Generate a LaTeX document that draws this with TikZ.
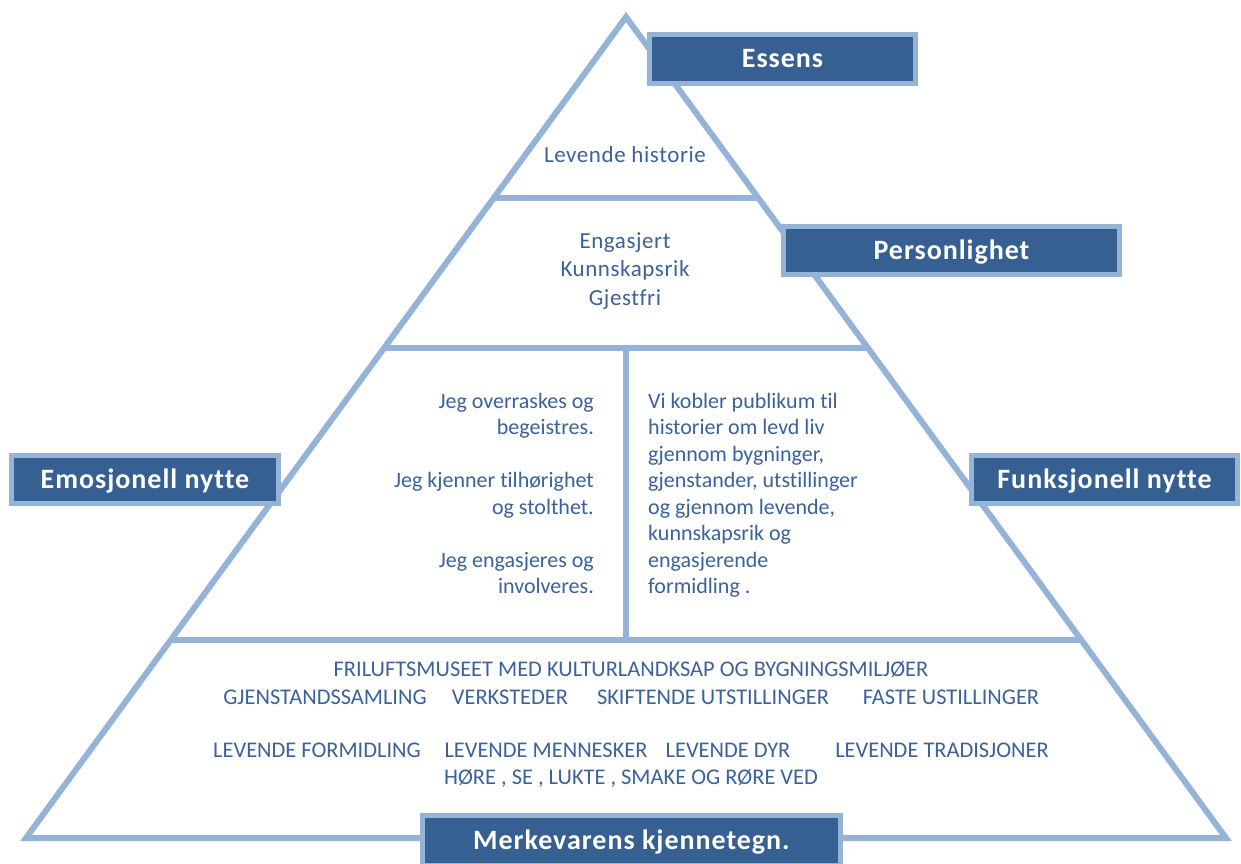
\documentclass[tikz,border=0pt]{standalone}
\usepackage{fontspec}
\setmainfont{Carlito}[Ligatures={NoCommon,NoContextual}]
\newfontfamily\labelfont{Carlito}[LetterSpace=3.5,Ligatures={NoCommon,NoContextual}]
\newfontfamily\topfont{Carlito}[LetterSpace=2.5,Ligatures={NoCommon,NoContextual}]
\definecolor{lineblue}{HTML}{95B3D7}
\definecolor{boxblue}{HTML}{366092}
\definecolor{txtblue}{HTML}{3A629C}
\begin{document}
\begin{tikzpicture}[x=1pt,y=-1pt,
  edge/.style={draw=lineblue,line width=6pt,line join=miter},
  labelbox/.style={draw=lineblue,fill=boxblue,line width=5pt,text=white,
    font=\labelfont\fontsize{28}{32}\selectfont\bfseries,inner sep=0pt,
    text height=17.6pt,text depth=0pt},
  body/.style={text=txtblue,font=\fontsize{22}{26.5}\selectfont,inner sep=0pt},
  topbody/.style={text=txtblue,font=\topfont\fontsize{23}{26.5}\selectfont,inner sep=0pt,anchor=base},
  caps/.style={text=txtblue,font=\fontsize{22.4}{26}\selectfont,inner sep=0pt,anchor=base}]
\useasboundingbox (0,0) rectangle (1241,863);
\fill[white] (0,0) rectangle (1241,863);
% triangle vertices
\coordinate (apex) at (626,17);
\coordinate (bl) at (26,838);
\coordinate (br) at (1226,838);
% level lines
\coordinate (l1a) at (495,198);
\coordinate (l1b) at (759,198);
\coordinate (l2a) at (384,348);
\coordinate (l2b) at (868,348);
\coordinate (l3a) at (171,640);
\coordinate (l3b) at (1081,640);
\coordinate (vt) at (626,348);
\coordinate (vb) at (626,640);
\draw[edge] (apex) -- (br) -- (bl) -- cycle;
\draw[edge] (l1a) -- (l1b);
\draw[edge] (l2a) -- (l2b);
\draw[edge] (l3a) -- (l3b);
\draw[edge,line cap=butt] (vt) -- (vb);
% texts
\node[topbody] (hist) at (625,162) {Levende historie};
\node[topbody] (p1) at (625,248) {Engasjert};
\node[topbody] (p2) at (625,276.5) {Kunnskapsrik};
\node[topbody] (p3) at (625,305) {Gjestfri};
\node[body,anchor=base east] (e1) at (594,408) {Jeg overraskes og};
\node[body,anchor=base east] (e2) at (594,434.5) {begeistres.};
\node[body,anchor=base east] (e3) at (594,487.5) {Jeg kjenner tilhørighet};
\node[body,anchor=base east] (e4) at (594,514) {og stolthet.};
\node[body,anchor=base east] (e5) at (594,567) {Jeg engasjeres og};
\node[body,anchor=base east] (e6) at (594,593.5) {involveres.};
\node[body,anchor=base west] (f1) at (648,408) {Vi kobler publikum til};
\node[body,anchor=base west] (f2) at (648,434.5) {historier om levd liv};
\node[body,anchor=base west] (f3) at (648,461) {gjennom bygninger,};
\node[body,anchor=base west] (f4) at (648,487.5) {gjenstander, utstillinger};
\node[body,anchor=base west] (f5) at (648,514) {og gjennom levende,};
\node[body,anchor=base west] (f6) at (648,540.5) {kunnskapsrik og};
\node[body,anchor=base west] (f7) at (648,567) {engasjerende};
\node[body,anchor=base west] (f8) at (648,593.5) {formidling .};
\node[caps] (b1) at (631,676) {FRILUFTSMUSEET MED KULTURLANDKSAP OG BYGNINGSMILJØER};
\node[caps] (b2) at (325,704) {GJENSTANDSSAMLING};
\node[caps] (b3) at (510,704) {VERKSTEDER};
\node[caps] (b4) at (713,704) {SKIFTENDE UTSTILLINGER};
\node[caps] (b5) at (951,704) {FASTE USTILLINGER};
\node[caps] (b6) at (317,757) {LEVENDE FORMIDLING};
\node[caps] (b7) at (546,757) {LEVENDE MENNESKER};
\node[caps] (b8) at (728,757) {LEVENDE DYR};
\node[caps] (b9) at (942,757) {LEVENDE TRADISJONER};
\node[caps] (b10) at (631,784) {HØRE , SE , LUKTE , SMAKE OG RØRE VED};
% label boxes
\node[labelbox,minimum width=266pt,minimum height=49pt] (essens) at (782.5,59) {Essens};
\node[labelbox,minimum width=336pt,minimum height=48pt] (pers) at (951.5,250.5) {Personlighet};
\node[labelbox,minimum width=267pt,minimum height=48pt] (emo) at (145,479.5) {Emosjonell nytte};
\node[labelbox,minimum width=266pt,minimum height=48pt] (funk) at (1104.5,479.5) {Funksjonell nytte};
\node[labelbox,minimum width=418pt,minimum height=50pt] (merk) at (631.5,840.5) {Merkevarens kjennetegn.};
\end{tikzpicture}
\end{document}
